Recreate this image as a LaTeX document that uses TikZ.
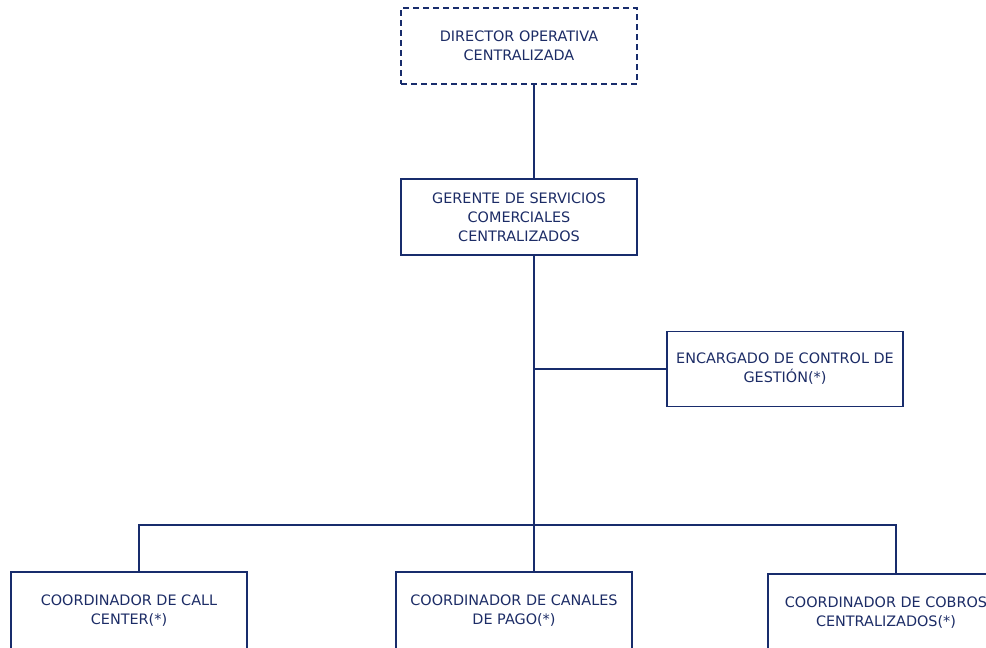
\documentclass[tikz,border=0pt]{standalone}
\usepackage{fontspec}
\setmainfont{DejaVu Sans}
\definecolor{navyline}{RGB}{24,44,108}
\definecolor{navytext}{RGB}{28,44,102}
\begin{document}
\begin{tikzpicture}[x=1pt,y=-1pt,
  orgbox/.style={draw=navyline, line width=1.8pt, rectangle, minimum width=236pt,
    minimum height=76pt, align=center, text=navytext, inner sep=0pt,
    font=\fontsize{14.4}{19}\selectfont},
  dashbox/.style={orgbox, dash pattern=on 6pt off 4pt},
  conn/.style={draw=navyline, line width=1.8pt}]
\useasboundingbox (0,0) rectangle (986,648);
\clip (0,0) rectangle (986,648);
\fill[white] (0,0) rectangle (986,648);

\node[dashbox] (dir) at (519,46) {DIRECTOR OPERATIVA\\CENTRALIZADA};
\node[orgbox] (ger) at (519,217) {GERENTE DE SERVICIOS\\COMERCIALES\\CENTRALIZADOS};
\node[orgbox, minimum height=75pt] (enc) at (785,369) {ENCARGADO DE CONTROL DE\\GESTIÓN(*)};
\node[orgbox, minimum height=78pt] (left) at (129,611) {COORDINADOR DE CALL\\CENTER(*)};
\node[orgbox, minimum height=78pt] (mid) at (514,611) {COORDINADOR DE CANALES\\DE PAGO(*)};
\node[orgbox, minimum height=78pt] (right) at (886,613) {COORDINADOR DE COBROS\\CENTRALIZADOS(*)};

\coordinate (sx) at (534,0);
\coordinate (bus) at (534,525);

\draw[conn] (dir.south -| sx) -- (ger.north -| sx);
\draw[conn] (ger.south -| sx) -- (bus) -- (bus |- mid.north);
\draw[conn] (enc.west) -- (enc.west -| sx);
\draw[conn] ([xshift=10pt]left.north) |- (bus) -| ([xshift=10pt]right.north);
\end{tikzpicture}
\end{document}
